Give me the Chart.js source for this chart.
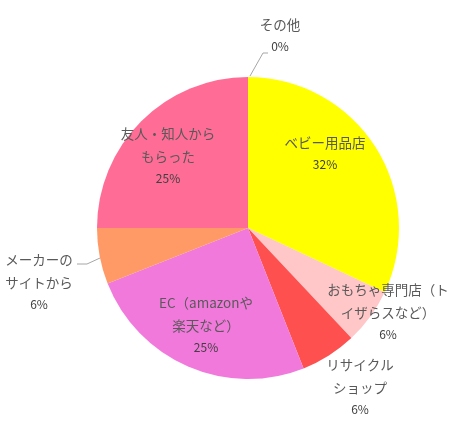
<!DOCTYPE html>
<html>
<head>
<meta charset="utf-8">
<script src="https://cdn.jsdelivr.net/npm/chart.js@4.4.1/dist/chart.umd.min.js"></script>
<style>
html,body{margin:0;padding:0;background:#fff;}
#wrap{width:459px;height:434px;position:relative;}
</style>
</head>
<body>
<div id="wrap"><canvas id="c" width="459" height="434"></canvas></div>
<script>
// Data
const categories = ['ベビー用品店','おもちゃ専門店（トイザらスなど）','リサイクルショップ','EC（amazonや楽天など）','メーカーのサイトから','友人・知人からもらった','その他'];
const values = [32, 6, 6, 25, 6, 25, 0];
const colors = ['#FFFF00','#FFC7C7','#FF5050','#F279DC','#FF9966','#FF6D96','#A5A5A5'];
const labelLines = [
  ['ベビー用品店'],
  ['おもちゃ専門店（ト','イザらスなど）'],
  ['リサイクル','ショップ'],
  ['EC（amazonや','楽天など）'],
  ['メーカーの','サイトから'],
  ['友人・知人から','もらった'],
  ['その他']
];

// Label layout (first-line centre, offset from pie centre in pixels at radius 151)
const labelPos = [
  [77,-85],[140,62],[112,137],[-42,75],[-209,32],[-80,-94],[32,-203]
];
// leader lines: list of points relative to centre
const leaders = {
  6: [[2,-152],[15,-175],[20,-175]],
  4: [[-148,30],[-161,36],[-171,36]]
};

const labelPlugin = {
  id:'pieLabels',
  afterDatasetsDraw(chart){
    const ctx = chart.ctx;
    const meta = chart.getDatasetMeta(0);
    const total = values.reduce((a,b)=>a+b,0);
    meta.data.forEach((arc,i)=>{
      const cx = arc.x, cy = arc.y, r = arc.outerRadius;
      const s = r/151;
      if (leaders[i]) {
        ctx.save();
        ctx.strokeStyle = '#A6A6A6';
        ctx.lineWidth = 1;
        ctx.beginPath();
        leaders[i].forEach((p,k)=>{
          const x = cx + p[0]*s, y = cy + p[1]*s;
          if(k===0) ctx.moveTo(x,y); else ctx.lineTo(x,y);
        });
        ctx.stroke();
        ctx.restore();
      }
      const x = cx + labelPos[i][0]*s;
      let y = cy + labelPos[i][1]*s;
      ctx.save();
      ctx.textAlign='center';
      ctx.textBaseline='middle';
      ctx.fillStyle='#595959';
      ctx.font='13.5px "Noto Sans CJK JP"';
      labelLines[i].forEach((ln,k)=>{
        ctx.fillText(ln, x, y + k*23);
      });
      const pct = Math.round(values[i]/total*100) + '%';
      ctx.fillStyle='#404040';
      ctx.font='12px "Noto Sans CJK JP"';
      ctx.fillText(pct, x, y + (labelLines[i].length-1)*23 + 21);
      ctx.restore();
    });
  }
};

new Chart(document.getElementById('c'),{
  type:'pie',
  data:{
    labels:categories,
    datasets:[{data:values, backgroundColor:colors, borderWidth:0}]
  },
  options:{
    responsive:false,
    animation:false,
    devicePixelRatio:1,
    layout:{padding:{left:97,right:60,top:77,bottom:55}},
    plugins:{legend:{display:false},tooltip:{enabled:false}}
  },
  plugins:[labelPlugin]
});
</script>
</body>
</html>
